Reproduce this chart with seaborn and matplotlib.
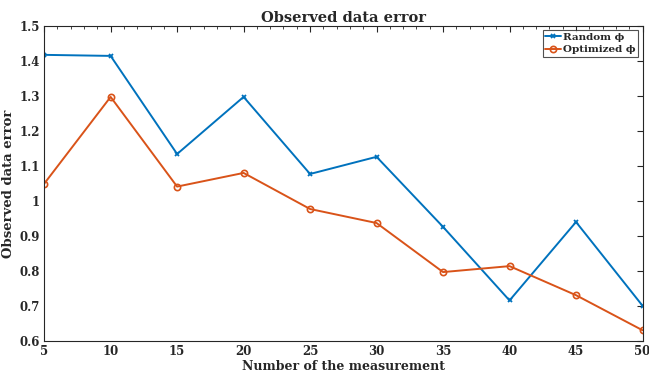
import numpy as np
import pandas as pd
import matplotlib
matplotlib.use("Agg")
import matplotlib.pyplot as plt
import seaborn as sns
from matplotlib.ticker import MultipleLocator

sns.set_theme(style="white")
plt.rcParams['font.family'] = ['DejaVu Serif']
plt.rcParams['font.weight'] = 'bold'

measurements = [5, 10, 15, 20, 25, 30, 35, 40, 45, 50]
random_phi = [1.417, 1.414, 1.134, 1.297, 1.077, 1.126, 0.926, 0.716, 0.940, 0.701]
optimized_phi = [1.049, 1.297, 1.041, 1.080, 0.977, 0.937, 0.797, 0.814, 0.731, 0.631]
series_names = ["Random \u03d5", "Optimized \u03d5"]
y_ticks = [0.6, 0.7, 0.8, 0.9, 1.0, 1.1, 1.2, 1.3, 1.4, 1.5]

fig = plt.figure(figsize=(6.49, 3.79), dpi=100)
ax = fig.add_axes([0.068, 0.10, 0.922, 0.832])

blue, orange = "#0072BD", "#D95319"
sns.lineplot(x=measurements, y=random_phi, ax=ax, color=blue, linewidth=1.4,
             marker="x", markersize=3.5, markeredgewidth=1.3,
             markeredgecolor=blue, label=series_names[0])
sns.lineplot(x=measurements, y=optimized_phi, ax=ax, color=orange, linewidth=1.4,
             marker="o", markersize=4.5, markerfacecolor="none", markeredgecolor=orange,
             markeredgewidth=1.2, label=series_names[1])

ax.set_xlim(5, 50)
ax.set_ylim(0.6, 1.5)
ax.xaxis.set_major_locator(MultipleLocator(5))
ax.xaxis.set_minor_locator(MultipleLocator(1))
ax.set_yticks(y_ticks)
ax.set_yticklabels([f"{v:g}" for v in y_ticks])
ax.tick_params(axis="both", which="both", direction="in", top=True, right=True,
               labelsize=8.5, colors="#262626", pad=3)
ax.tick_params(axis="both", which="major", length=4, width=0.8)
ax.tick_params(axis="x", which="minor", length=2, width=0.6)
for s in ax.spines.values():
    s.set_color("#262626")
    s.set_linewidth(0.8)

ax.set_xlabel("Number of the measurement", fontsize=9, fontweight="bold", labelpad=1)
ax.set_ylabel("Observed data error", fontsize=9.5, fontweight="bold", labelpad=3)
ax.set_title("Observed data error", fontsize=10.5, fontweight="bold", pad=3)

leg = ax.legend(loc="upper right", fontsize=7.5, frameon=True, fancybox=False,
                borderpad=0.25, handlelength=1.5, handletextpad=0.2, labelspacing=0.3,
                borderaxespad=0.4)
leg.get_frame().set_edgecolor("#262626")
leg.get_frame().set_linewidth(0.8)

fig.savefig("out.png", dpi=100)
